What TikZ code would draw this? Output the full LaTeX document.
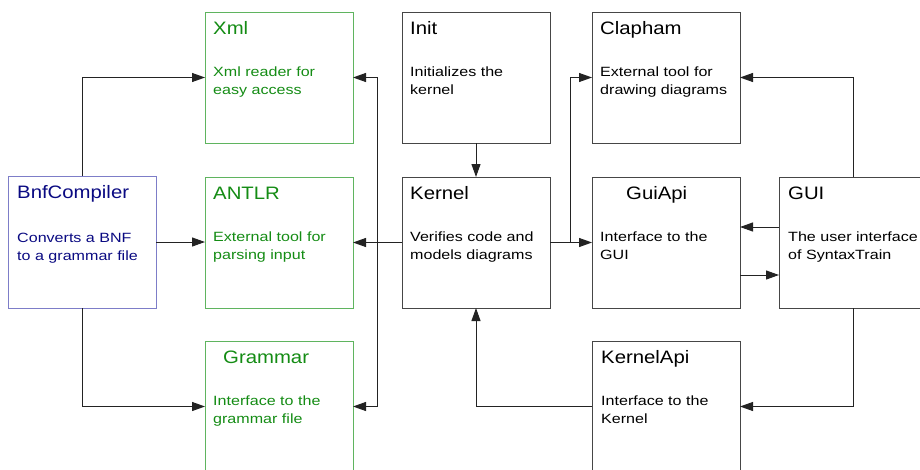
\documentclass[tikz,border=0pt]{standalone}
\usepackage{fontspec}
\setmainfont{Liberation Sans}
\newfontfamily\ttlfont[FakeStretch=1.13]{Liberation Sans}
\newfontfamily\bdyfont[FakeStretch=1.2]{Liberation Sans}
\usetikzlibrary{arrows.meta,calc}
\definecolor{grnline}{RGB}{95,180,95}
\definecolor{grntext}{RGB}{20,140,20}
\definecolor{bluline}{RGB}{125,125,200}
\definecolor{blutext}{RGB}{10,10,130}
\definecolor{gryline}{RGB}{70,70,70}
\definecolor{conn}{RGB}{35,35,35}
\tikzset{
  box/.style={draw=gryline, line width=1pt, rectangle, minimum width=148pt, minimum height=131pt, inner sep=0pt, outer sep=0pt},
  gbox/.style={box, draw=grnline},
  bbox/.style={box, draw=bluline},
  ttl/.style={anchor=base west, inner sep=0pt, font=\ttlfont\fontsize{18}{18}\selectfont},
  bdy/.style={anchor=base west, inner sep=0pt, align=left, font=\bdyfont\fontsize{13.4}{17.8}\selectfont},
  arr/.style={draw=conn, line width=1pt, -{Triangle[length=13pt,width=9pt]}},
  arrb/.style={draw=conn, line width=1pt, {Triangle[length=13pt,width=9pt]}-{Triangle[length=13pt,width=9pt]}},
}
\begin{document}
\begin{tikzpicture}[x=1pt,y=-1pt]
\useasboundingbox (0,0) rectangle (920,469);
\clip (0,0) rectangle (920,469);
\fill[white] (0,0) rectangle (920,469);
% boxes
\node[gbox] (xml) at (279,77.5) {};
\node[gbox] (antlr) at (279,242.5) {};
\node[gbox] (grammar) at (279,406.5) {};
\node[bbox, minimum height=132pt] (bnf) at (82,242) {};
\node[box] (init) at (476,77.5) {};
\node[box] (kernel) at (476,242.5) {};
\node[box] (kapi) at (666,406.5) {};
\node[box] (clapham) at (666,77.5) {};
\node[box] (guiapi) at (666,242.5) {};
\node[box] (gui) at (853,242.5) {};
% titles
\node[ttl, text=grntext] (xmlT) at ($(xml.north west)+(8,22)$) {Xml};
\node[ttl, text=grntext] (antlrT) at ($(antlr.north west)+(8,22)$) {ANTLR};
\node[ttl, text=grntext] (grammarT) at ($(grammar.north west)+(18,22)$) {Grammar};
\node[ttl, text=blutext] (bnfT) at ($(bnf.north west)+(9,22)$) {BnfCompiler};
\node[ttl] (initT) at ($(init.north west)+(8,22)$) {Init};
\node[ttl] (kernelT) at ($(kernel.north west)+(8,22)$) {Kernel};
\node[ttl] (kapiT) at ($(kapi.north west)+(9,22)$) {KernelApi};
\node[ttl] (claphamT) at ($(clapham.north west)+(8,22)$) {Clapham};
\node[ttl] (guiapiT) at ($(guiapi.north west)+(34,22)$) {GuiApi};
\node[ttl] (guiT) at ($(gui.north west)+(9,22)$) {GUI};
% bodies (base anchor = last line)
\node[bdy, text=grntext] (xmlB) at ($(xml.north west)+(8,82)$) {Xml reader for\\easy access};
\node[bdy, text=grntext] (antlrB) at ($(antlr.north west)+(8,82)$) {External tool for\\parsing input};
\node[bdy, text=grntext] (grammarB) at ($(grammar.north west)+(8,82)$) {Interface to the\\grammar file};
\node[bdy, text=blutext] (bnfB) at ($(bnf.north west)+(9,84)$) {Converts a BNF\\to a grammar file};
\node[bdy] (initB) at ($(init.north west)+(8,82)$) {Initializes the\\kernel};
\node[bdy] (kernelB) at ($(kernel.north west)+(8,82)$) {Verifies code and\\models diagrams};
\node[bdy] (kapiB) at ($(kapi.north west)+(9,82)$) {Interface to the\\Kernel};
\node[bdy] (claphamB) at ($(clapham.north west)+(8,82)$) {External tool for\\drawing diagrams};
\node[bdy] (guiapiB) at ($(guiapi.north west)+(8,82)$) {Interface to the\\GUI};
\node[bdy] (guiB) at ($(gui.north west)+(9,82)$) {The user interface\\of SyntaxTrain};
% connectors
\draw[arr] (bnf.north) |- (xml.west);
\draw[arr] (bnf.east) -- (bnf.east -| antlr.west);
\draw[arr] (bnf.south) |- (grammar.west);
\draw[arr] (kernel.west) -- (antlr.east);
\coordinate (busT) at ($(xml.east)+(24,0)$);
\coordinate (busB) at ($(grammar.east)+(24,0)$);
\draw[arrb] (xml.east) -- (busT) -- (busB) -- (grammar.east);
\draw[arr] (init.south) -- (kernel.north);
\draw[arr] (kernel.east) -- (guiapi.west);
\coordinate (br) at ($(kernel.east)+(20,0)$);
\draw[arr] (br) |- (clapham.west);
\draw[arr] (gui.north) |- (clapham.east);
\draw[arr] ($(gui.west)+(0,-15.5)$) -- ($(guiapi.east)+(0,-15.5)$);
\draw[arr] ($(guiapi.east)+(0,32.5)$) -- ($(gui.west)+(0,32.5)$);
\draw[arr] (gui.south) |- (kapi.east);
\draw[arr] (kapi.west) -| (kernel.south);
\end{tikzpicture}
\end{document}
